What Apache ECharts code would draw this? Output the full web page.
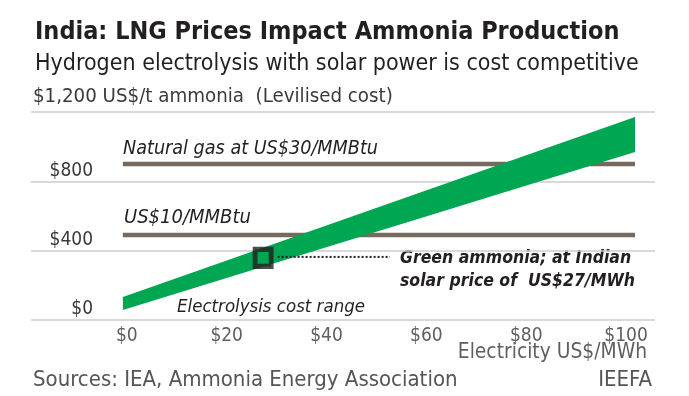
<!DOCTYPE html>
<html>
<head>
<meta charset="utf-8">
<script src="https://cdn.jsdelivr.net/npm/echarts@6/dist/echarts.min.js"></script>
<style>
  html, body { margin: 0; padding: 0; background: #fff; }
  #chart { width: 689px; height: 396px; }
</style>
</head>
<body>
<div id="chart"></div>
<script>
// values
var xTicks = [0, 20, 40, 60, 80, 100];
var yTicks = [0, 400, 800, 1200];

// electrolysis cost band (x = US$/MWh, y = US$/t)
var bandX = [-0.8, 101.8];
var bandLow = [58, 969];
var bandHigh = [133, 1171];

// natural gas reference lines
var gasX = [-0.8, 101.8];
var gas30 = [900, 900];
var gas10 = [490, 490];

// green ammonia at indian solar price
var solarPoint = [27.3, 358];
var pointerX = [30.2, 52.7];
var pointerY = [364, 364];

var FONT = "'DejaVu Sans Condensed', 'Noto Sans', sans-serif";
var GREEN = '#00a651';
var BROWN = '#766a5f';
var DARK = '#231f20';

var chart = echarts.init(document.getElementById('chart'), null, { renderer: 'canvas' });

function pairs(xs, ys) {
  return xs.map(function (x, i) { return [x, ys[i]]; });
}

var option = {
  animation: false,
  backgroundColor: '#fff',
  textStyle: { fontFamily: FONT },
  grid: { left: 31, right: 34, top: 112, bottom: 76 },
  xAxis: {
    type: 'value',
    min: -19.2,
    max: 105.8,
    axisLine: { show: false },
    axisTick: { show: false },
    splitLine: { show: false },
    axisLabel: {
      customValues: xTicks,
      margin: 7,
      fontSize: 19,
      color: '#5f5f5f',
      fontFamily: FONT,
      formatter: function (v) { return '$' + v; }
    }
  },
  yAxis: {
    type: 'value',
    min: 0,
    max: 1200,
    interval: 400,
    axisLine: { show: false },
    axisTick: { show: false },
    splitLine: { lineStyle: { color: '#cdcdcd', width: 1.5 } },
    axisLabel: {
      inside: true,
      margin: 62,
      align: 'right',
      verticalAlign: 'bottom',
      padding: [0, 0, 1, 0],
      fontSize: 19,
      color: '#3a3a3a',
      fontFamily: FONT,
      formatter: function (v) {
        return v === yTicks[yTicks.length - 1] ? '' : '$' + v;
      }
    }
  },
  series: [
    {
      type: 'line',
      data: pairs(gasX, gas30),
      symbol: 'none',
      silent: true,
      z: 2,
      lineStyle: { color: BROWN, width: 4.5 }
    },
    {
      type: 'line',
      data: pairs(gasX, gas10),
      symbol: 'none',
      silent: true,
      z: 2,
      lineStyle: { color: BROWN, width: 4.5 }
    },
    {
      type: 'custom',
      z: 3,
      silent: true,
      data: [0],
      renderItem: function (params, api) {
        var pts = [];
        for (var i = 0; i < bandX.length; i++) pts.push(api.coord([bandX[i], bandHigh[i]]));
        for (var j = bandX.length - 1; j >= 0; j--) pts.push(api.coord([bandX[j], bandLow[j]]));
        return {
          type: 'polygon',
          shape: { points: pts },
          style: { fill: GREEN }
        };
      }
    },
    {
      type: 'line',
      data: pairs(pointerX, pointerY),
      symbol: 'none',
      silent: true,
      z: 4,
      lineStyle: { color: DARK, width: 2, type: [2, 2] }
    },
    {
      type: 'scatter',
      data: [solarPoint],
      symbol: 'rect',
      symbolSize: [16, 17],
      silent: true,
      z: 5,
      itemStyle: { color: GREEN, borderColor: DARK, borderWidth: 5 }
    }
  ],
  graphic: [
    { type: 'text', left: 35, top: 20, style: { text: 'India: LNG Prices Impact Ammonia Production', font: 'bold 25px ' + FONT, fill: DARK } },
    { type: 'text', left: 35, top: 53, style: { text: 'Hydrogen electrolysis with solar power is cost competitive', font: '23px ' + FONT, fill: DARK } },
    { type: 'text', left: 33, top: 87, style: { text: '$1,200 US$/t ammonia  (Levilised cost)', font: '20.3px ' + FONT, fill: '#3a3a3a' } },
    { type: 'text', left: 123, top: 139, style: { text: 'Natural gas at US$30/MMBtu', font: 'italic 19.6px ' + FONT, fill: DARK } },
    { type: 'text', left: 124, top: 208, style: { text: 'US$10/MMBtu', font: 'italic 20px ' + FONT, fill: DARK } },
    { type: 'text', left: 400, top: 247, style: { text: 'Green ammonia; at Indian\nsolar price of  US$27/MWh', font: 'italic bold 17.5px ' + FONT, lineHeight: 23, fill: DARK } },
    { type: 'text', left: 177, top: 298, style: { text: 'Electrolysis cost range', font: 'italic 18.5px ' + FONT, fill: DARK } },
    { type: 'text', right: 42, top: 342, style: { text: 'Electricity US$/MWh', font: '20.8px ' + FONT, fill: '#5f5f5f' } },
    { type: 'text', left: 33, top: 369, style: { text: 'Sources: IEA, Ammonia Energy Association', font: '22px ' + FONT, fill: '#555' } },
    { type: 'text', right: 37, top: 369, style: { text: 'IEEFA', font: '22px ' + FONT, fill: '#555' } }
  ]
};

chart.setOption(option);
</script>
</body>
</html>
